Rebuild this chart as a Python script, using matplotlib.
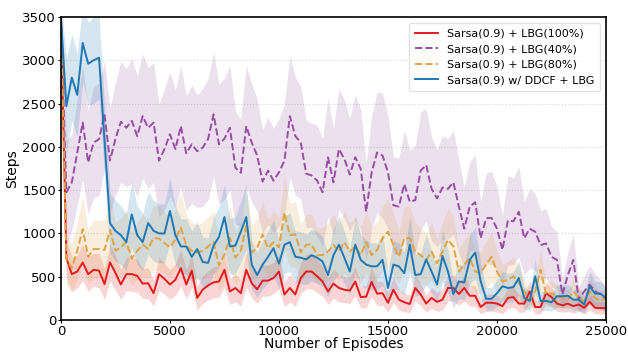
import matplotlib
matplotlib.use("Agg")
import matplotlib.pyplot as plt
import numpy as np

# episodes, one point every 250
episodes = np.arange(0, 25001, 250)

# Sarsa(0.9) + LBG(100%)
red_mean = [3500, 715, 530, 560, 665, 530, 580, 570, 415, 665,
            545, 410, 530, 530, 510, 420, 425, 310, 530, 475,
            410, 465, 600, 410, 570, 255, 350, 400, 435, 445,
            580, 330, 370, 310, 580, 425, 355, 455, 455, 485,
            560, 295, 370, 295, 485, 560,
            560, 505, 445, 330, 420, 370, 350, 340, 445, 265,
            270, 440, 305, 310, 200, 350, 235, 205, 185, 370,
            295, 190, 255, 210, 235, 370, 370, 300, 370, 280,
            280, 150, 200, 200, 190, 160, 255, 265, 190, 190,
            330, 150, 150, 310, 265, 190, 170, 190, 160, 180,
            140, 210, 140, 140, 135]
red_std = [300, 230, 200, 190, 210, 200, 190, 200, 180, 210,
           200, 170, 190, 200, 190, 170, 180, 150, 190, 180,
           170, 180, 210, 170, 190, 140, 160, 170, 180, 180,
           200, 150, 160, 150, 200, 170, 160, 180, 180, 180,
           200, 140, 160, 140, 180, 200,
           200, 190, 170, 150, 170, 160, 150, 150, 170, 130,
           130, 170, 140, 140, 110, 150, 120, 110, 100, 150,
           130, 100, 120, 110, 120, 150, 150, 130, 150, 120,
           120, 80, 100, 100, 100, 90, 120, 120, 100, 100,
           130, 80, 80, 120, 110, 90, 80, 90, 80, 80,
           70, 90, 70, 70, 70]

# Sarsa(0.9) + LBG(40%)
purple_mean = [3500, 1475, 1590, 1935, 2280, 1820, 2050, 2090, 2375, 1840,
               2090, 2290, 2220, 2300, 2125, 2355, 2220, 2280, 1840, 1975,
               2145, 1975, 2240, 1925, 2030, 1950, 1990, 2090, 2375, 2030,
               2095, 2220, 1760, 1700, 2240, 2050, 1900, 1600, 1725, 1610,
               1705, 1840, 2355, 2125, 2050, 1690,
               1670, 1610, 1475, 1880, 1590, 1975, 1860, 1680, 1880, 1745,
               1250, 1705, 1935, 1900, 1705, 1325, 1310, 1570, 1365, 1385,
               1725, 1790, 1515, 1405, 1530, 1515, 1590, 1310, 1055, 1310,
               1360, 945, 1175, 1180, 1055, 810, 1150, 1140, 1250, 945,
               1055, 1020, 865, 885, 730, 695, 295, 520, 695, 235,
               330, 410, 330, 295, 235]
purple_std = [200, 600, 550, 620, 650, 600, 640, 650, 620, 600,
              650, 700, 680, 720, 700, 720, 700, 690, 650, 700,
              720, 680, 700, 660, 680, 650, 680, 700, 720, 690,
              700, 720, 650, 620, 700, 680, 650, 600, 620, 600,
              620, 650, 700, 680, 650, 620,
              600, 640, 620, 680, 620, 700, 680, 650, 720, 680,
              560, 650, 700, 720, 650, 560, 560, 620, 600, 620,
              680, 650, 600, 560, 600, 580, 600, 540, 480, 520,
              540, 420, 520, 540, 480, 400, 520, 500, 520, 420,
              460, 440, 400, 400, 350, 330, 180, 260, 300, 150,
              180, 220, 200, 170, 150]

# Sarsa(0.9) + LBG(80%)
orange_mean = [3500, 700, 600, 800, 1050, 730, 820, 820, 810, 1040,
               800, 840, 900, 710, 800, 870, 820, 950, 940, 890,
               840, 930, 1070, 860, 800, 780, 800, 850, 900, 630,
               760, 950, 720, 800, 1090, 780, 830, 990, 830, 900,
               840, 1240, 980, 990, 780, 870,
               875, 750, 750, 790, 870, 790, 900, 790, 850, 750,
               900, 750, 810, 945, 1020, 870, 730, 945, 945, 790,
               750, 695, 790, 655, 790, 925, 850, 560, 640, 715,
               560, 545, 640, 730, 560, 445, 465, 505, 430, 330,
               235, 330, 580, 295, 310, 275, 255, 235, 330, 255,
               220, 330, 255, 220, 255]
orange_std = [200, 300, 280, 330, 380, 320, 340, 330, 340, 380,
              330, 340, 360, 310, 330, 350, 340, 380, 370, 360,
              340, 360, 400, 350, 330, 320, 330, 340, 360, 290,
              320, 370, 300, 330, 400, 320, 340, 380, 340, 360,
              340, 420, 370, 380, 320, 350,
              350, 320, 320, 330, 350, 330, 360, 330, 350, 320,
              360, 320, 330, 370, 390, 350, 310, 370, 370, 330,
              320, 300, 330, 290, 330, 360, 340, 260, 280, 300,
              250, 240, 270, 290, 240, 200, 210, 220, 200, 160,
              120, 160, 230, 140, 150, 130, 120, 110, 150, 120,
              110, 150, 120, 110, 120]

# Sarsa(0.9) w/ DDCF + LBG
blue_mean = [3500, 2470, 2800, 2600, 3200, 2960, 3000, 3030, 2075, 1120,
             1030, 980, 900, 1220, 980, 900, 1120, 1030, 1000, 1000,
             1260, 980, 850, 850, 730, 820, 670, 660, 860, 960,
             1190, 850, 860, 1020, 1190, 640, 520, 640, 730, 830,
             650, 870, 900, 730, 720, 700,
             750, 720, 675, 520, 750, 870, 720, 560, 870, 695,
             640, 620, 620, 695, 370, 640, 620, 540, 870, 520,
             530, 700, 560, 410, 740, 560, 300, 445, 435, 695,
             780, 450, 245, 245, 310, 390, 370, 380, 485, 255,
             220, 505, 220, 220, 205, 275, 275, 280, 235, 235,
             180, 390, 305, 305, 255]
blue_std = [200, 550, 500, 480, 450, 480, 500, 480, 400, 350,
            350, 340, 330, 380, 340, 330, 360, 350, 340, 340,
            380, 340, 320, 320, 300, 320, 290, 290, 330, 350,
            380, 320, 330, 350, 380, 280, 260, 280, 300, 320,
            290, 330, 340, 300, 300, 290,
            300, 300, 290, 250, 300, 330, 300, 260, 330, 290,
            280, 270, 270, 290, 200, 280, 270, 250, 330, 240,
            240, 290, 250, 200, 300, 250, 160, 200, 200, 280,
            300, 200, 130, 130, 150, 170, 170, 170, 200, 130,
            110, 200, 110, 110, 100, 130, 130, 130, 120, 120,
            100, 170, 140, 140, 120]

labels = ["Sarsa(0.9) + LBG(100%)", "Sarsa(0.9) + LBG(40%)",
          "Sarsa(0.9) + LBG(80%)", "Sarsa(0.9) w/ DDCF + LBG"]
colors = ["#e41a1c", "#984ea3", "#e0a444", "#1f77b4"]
styles = ["-", "--", "--", "-"]
means = [red_mean, purple_mean, orange_mean, blue_mean]
stds = [red_std, purple_std, orange_std, blue_std]

plt.rcParams["font.family"] = ["DejaVu Sans"]
fig = plt.figure(figsize=(6.28, 3.54), dpi=100)
ax = fig.add_axes([0.097, 0.096, 0.868, 0.856])

# bands first, lines on top
for m, s, c in zip(means, stds, colors):
    m = np.array(m, dtype=float)
    s = np.array(s, dtype=float)
    ax.fill_between(episodes, m - s, m + s, color=c, alpha=0.18, linewidth=0)
for m, c, ls, lab in zip(means, colors, styles, labels):
    ax.plot(episodes, m, color=c, linestyle=ls, linewidth=1.4, label=lab)

ax.set_xlim(0, 25000)
ax.set_ylim(0, 3500)
ax.set_xticks([0, 5000, 10000, 15000, 20000, 25000])
ax.set_yticks(np.arange(0, 3501, 500))
ax.tick_params(labelsize=9.5, length=2, pad=1.5)
ax.set_xlabel("Number of Episodes", fontsize=10, labelpad=-0.5)
ax.set_ylabel("Steps", fontsize=10, labelpad=2)
ax.grid(axis="y", linestyle=":", color="#d8d8d8", linewidth=0.8)
ax.set_axisbelow(True)
for sp in ax.spines.values():
    sp.set_color("black")
    sp.set_linewidth(1.2)

ax.legend(loc="upper right", fontsize=8, frameon=True, fancybox=True,
          edgecolor="#dddddd", handlelength=2.1, borderpad=0.55,
          labelspacing=0.5)

fig.savefig("out.png", dpi=100)
